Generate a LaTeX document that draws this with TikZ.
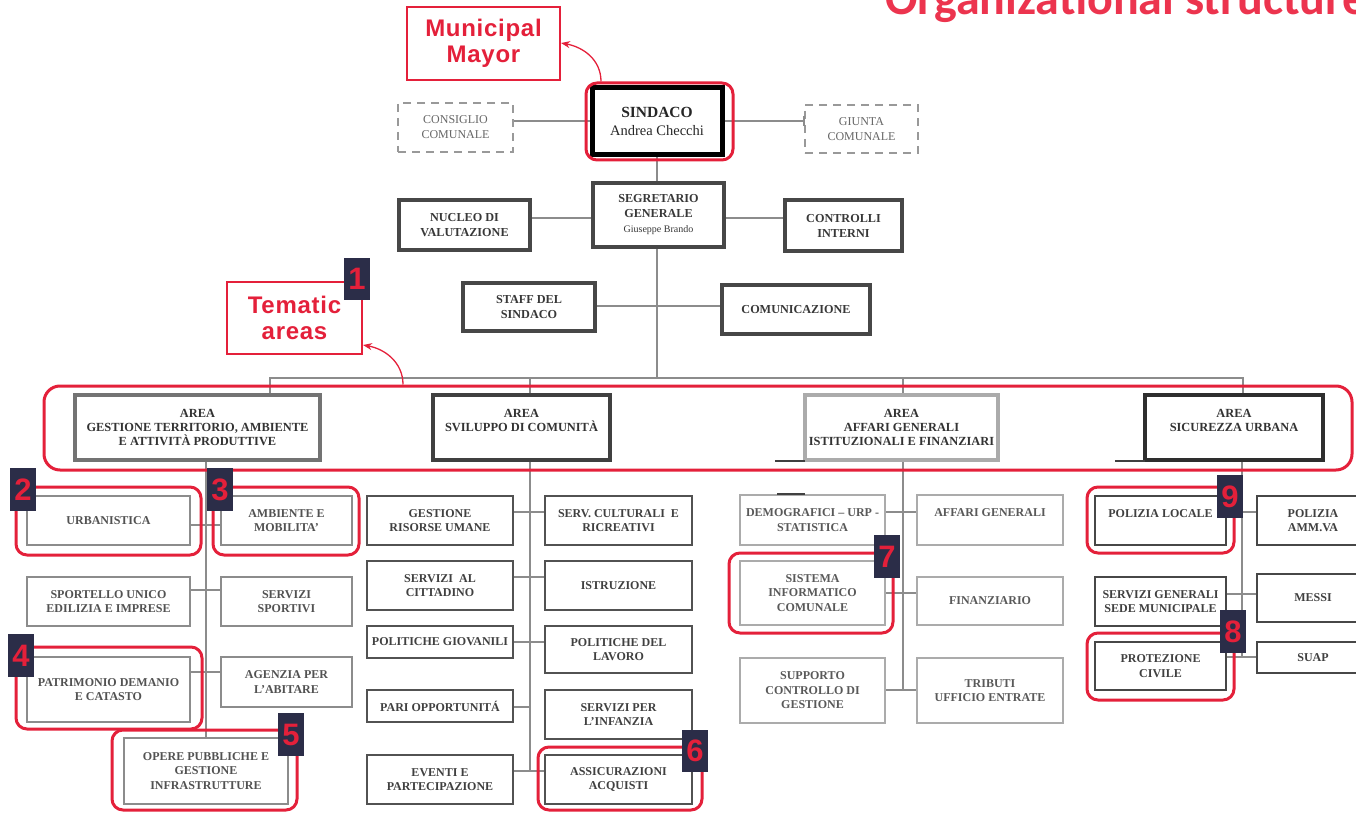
\documentclass[tikz,border=0pt]{standalone}
\usepackage{fontspec}
\setmainfont{Liberation Serif}
\newfontfamily\lsans[LetterSpace=3]{Liberation Sans}
\newfontfamily\numfont{Liberation Sans}
\newfontfamily\carl{Carlito}
\usetikzlibrary{arrows.meta}
\definecolor{hired}{RGB}{228,32,58}
\definecolor{titred}{RGB}{236,52,78}
\definecolor{navy}{RGB}{43,45,72}
\definecolor{conncol}{RGB}{140,140,140}
\newcommand\bx[7]{\node[#2,minimum width={#5-#3},minimum height={#6-#4}] (#1) at ({(#3+#5)/2},{(#4+#6)/2}) {#7};}
\begin{document}
\begin{tikzpicture}[x=1pt,y=-1pt,
  base/.style={draw,fill=white,inner sep=0pt,align=center,font=\bfseries\fontsize{12}{14.5}\selectfont},
  lone/.style={base,draw=black!72,line width=4pt,text=black!78,font=\bfseries\fontsize{12.2}{15}\selectfont},
  sindbox/.style={base,draw=black,line width=5pt,text=black!85},
  dbox/.style={base,draw=black!40,line width=2pt,dash pattern=on 8pt off 6pt,text=black!60,font=\fontsize{12}{15}\selectfont},
  redbox/.style={draw=hired,line width=2pt,fill=white,text=hired,align=center,inner sep=0pt,font=\lsans\bfseries\fontsize{24}{26}\selectfont},
  areaT/.style={base,font=\bfseries\fontsize{12.4}{14.2}\selectfont},
  areaA/.style={areaT,draw=black!55,line width=4pt,text=black!80},
  areaB/.style={areaT,draw=black!75,line width=4pt,text=black!80},
  areaC/.style={areaT,draw=black!33,line width=3.5pt,text=black!80},
  areaD/.style={areaT,draw=black!82,line width=4pt,text=black!80},
  cA/.style={base,draw=black!45,line width=2.2pt,text=black!68},
  cB/.style={base,draw=black!68,line width=2.5pt,text=black!75},
  cC/.style={base,draw=black!33,line width=2.2pt,text=black!65},
  cD/.style={base,draw=black!72,line width=2.5pt,text=black!75},
  hl/.style={draw=hired,line width=3pt,rounded corners=11pt,inner sep=0pt},
  numsq/.style={fill=navy,text=hired,inner sep=0pt,font=\numfont\bfseries\fontsize{31}{31}\selectfont},
  conn/.style={draw=conncol,line width=2.5pt},
  redarrow/.style={draw=hired,line width=1.3pt,-{Stealth[length=9pt,width=7pt]}}
]
\useasboundingbox (0,0) rectangle (1356,813);
% title
\node[anchor=base west,text=titred,inner sep=0pt,font=\carl\bfseries\fontsize{48}{48}\selectfont] (title) at (885,15) {Organizational structure};
% top level
\bx{mun}{redbox}{407}{7}{560}{80}{Municipal\\Mayor}
\bx{sind}{sindbox}{592}{88}{722}{155}{{\fontsize{15.5}{18}\selectfont SINDACO}\\[3pt]{\mdseries\fontsize{14.5}{17}\selectfont Andrea Checchi}}
\bx{cons}{dbox}{398}{103}{513}{152}{CONSIGLIO\\COMUNALE}
\bx{giun}{dbox}{805}{105}{918}{153}{GIUNTA\\COMUNALE}
\bx{seg}{lone}{593}{183}{724}{247}{SEGRETARIO\\GENERALE\\{\mdseries\fontsize{10}{12}\selectfont Giuseppe Brando}}
\bx{nuc}{lone}{399}{200}{530}{250}{NUCLEO DI\\VALUTAZIONE}
\bx{ctrl}{lone}{785}{200}{902}{251}{CONTROLLI\\INTERNI}
\bx{staff}{lone}{463}{283}{595}{331}{STAFF DEL\\SINDACO}
\bx{com}{lone}{722}{285}{870}{334}{COMUNICAZIONE}
\bx{tem}{redbox}{227}{282}{362}{354}{Tematic\\areas}
% areas
\bx{a1}{areaA}{75}{395}{320}{460}{AREA\\GESTIONE TERRITORIO, AMBIENTE\\E ATTIVITÀ PRODUTTIVE}
\bx{a2}{areaB}{433}{395}{610}{460}{AREA\\SVILUPPO DI COMUNITÀ\\\phantom{X}}
\bx{a3}{areaC}{805}{395}{998}{460}{AREA\\AFFARI GENERALI\\ISTITUZIONALI E FINANZIARI}
\bx{a4}{areaD}{1145}{395}{1323}{460}{AREA\\SICUREZZA URBANA\\\phantom{X}}
% column 1
\bx{urb}{cA}{27}{496}{190}{545}{URBANISTICA}
\bx{amb}{cA}{221}{496}{352}{545}{AMBIENTE E\\MOBILITA'}
\bx{spo}{cA}{27}{577}{190}{626}{SPORTELLO UNICO\\EDILIZIA E IMPRESE}
\bx{ssp}{cA}{221}{577}{352}{626}{SERVIZI\\SPORTIVI}
\bx{pat}{cA}{27}{657}{190}{722}{PATRIMONIO DEMANIO\\E CATASTO}
\bx{aga}{cA}{221}{657}{352}{707}{AGENZIA PER\\L'ABITARE}
\bx{ope}{cA}{124}{738}{288}{804}{OPERE PUBBLICHE E\\GESTIONE\\INFRASTRUTTURE}
% column 2
\bx{ger}{cB}{367}{496}{513}{545}{GESTIONE\\RISORSE UMANE}
\bx{scr}{cB}{545}{496}{692}{545}{SERV. CULTURALI~~E\\RICREATIVI}
\bx{sac}{cB}{367}{561}{513}{610}{SERVIZI~~AL\\CITTADINO}
\bx{ist}{cB}{545}{561}{692}{610}{ISTRUZIONE}
\bx{pgi}{cB}{367}{626}{513}{658}{POLITICHE GIOVANILI}
\bx{pla}{cB}{545}{626}{692}{673}{POLITICHE DEL\\LAVORO}
\bx{par}{cB}{367}{690}{513}{722}{PARI OPPORTUNITÁ}
\bx{sin}{cB}{545}{690}{692}{739}{SERVIZI PER\\L'INFANZIA}
\bx{eve}{cB}{367}{755}{513}{804}{EVENTI E\\PARTECIPAZIONE}
\bx{ass}{cB}{545}{755}{692}{804}{ASSICURAZIONI\\ACQUISTI}
% column 3
\bx{dem}{cC}{740}{495}{885}{545}{DEMOGRAFICI -- URP -\\STATISTICA}
\bx{afg}{cC}{917}{495}{1063}{545}{AFFARI GENERALI\\\phantom{X}}
\bx{sic}{cC}{740}{561}{885}{625}{SISTEMA\\INFORMATICO\\COMUNALE}
\bx{fin}{cC}{917}{577}{1063}{625}{FINANZIARIO}
\bx{sup}{cC}{740}{658}{885}{723}{SUPPORTO\\CONTROLLO DI\\GESTIONE}
\bx{tri}{cC}{917}{658}{1063}{723}{TRIBUTI\\UFFICIO ENTRATE}
% column 4
\bx{pol}{cD}{1095}{496}{1226}{545}{POLIZIA LOCALE\\\phantom{X}}
\bx{pam}{cD}{1257}{496}{1369}{545}{POLIZIA\\AMM.VA}
\bx{sgm}{cD}{1095}{577}{1226}{626}{SERVIZI GENERALI\\SEDE MUNICIPALE}
\bx{mes}{cD}{1257}{574}{1369}{622}{MESSI}
\bx{pro}{cD}{1095}{642}{1226}{690}{PROTEZIONE\\CIVILE}
\bx{sua}{cD}{1257}{642}{1369}{673}{SUAP}
% connectors top
\draw[conn] (cons.east |- 0,121) -- (sind.west |- 0,121);
\draw[conn] (sind.east |- 0,121) -- (giun.west |- 0,121);
\draw[conn] (giun.west |- 0,116) -- (giun.west |- 0,126);
\draw[conn] (sind.south) -- (sind.south |- seg.north);
\draw[conn] (nuc.east |- 0,218) -- (seg.west |- 0,218);
\draw[conn] (seg.east |- 0,218) -- (ctrl.west |- 0,218);
\coordinate (busL) at (270,378);
\coordinate (busR) at (1243,378);
\draw[conn] (seg.south -| sind.south) -- (sind.south |- busL);
\draw[conn] (staff.east |- 0,306) -- (com.west |- 0,306);
\draw[conn] (a1.north -| busL) -- (busL) -- (busR) -- (a4.north -| busR);
\draw[conn] (a2.north -| 530,0) -- (530,378);
\draw[conn] (a3.north -| 903,0) -- (903,378);
% column 1 connectors
\draw[conn] (a1.south -| ope.north) -- (ope.north);
\draw[conn] (urb.east |- 0,525) -- (amb.west |- 0,525);
\draw[conn] (spo.east |- 0,590) -- (ssp.west |- 0,590);
\draw[conn] (pat.east |- 0,672) -- (aga.west |- 0,672);
% column 2
\coordinate (s2) at (530,771);
\draw[conn] (a2.south -| s2) -- (s2);
\draw[conn] (ger.east |- 0,512) -- (scr.west |- 0,512);
\draw[conn] (sac.east |- 0,577) -- (ist.west |- 0,577);
\draw[conn] (pgi.east |- 0,642) -- (pla.west |- 0,642);
\draw[conn] (par.east |- 0,707) -- (530,707);
\draw[conn] (eve.east |- s2) -- (ass.west |- s2);
% column 3
\coordinate (s3) at (903,690);
\draw[conn] (a3.south -| s3) -- (s3);
\draw[conn] (dem.east |- 0,512) -- (afg.west |- 0,512);
\draw[conn] (sic.east |- 0,593) -- (fin.west |- 0,593);
\draw[conn] (sup.east |- s3) -- (tri.west |- s3);
% column 4
\coordinate (s4) at (1242,658);
\draw[conn] (a4.south -| s4) -- (s4);
\draw[conn] (pol.east |- 0,512) -- (pam.west |- 0,512);
\draw[conn] (sgm.east |- 0,594) -- (mes.west |- 0,594);
\draw[conn] (pro.east |- 0,657) -- (sua.west |- 0,657);
% small stubs
\draw[black!75,line width=1.5pt] (775,461) -- (805,461);
\draw[black!75,line width=1.5pt] (1115,461) -- (1145,461);
\draw[black!75,line width=1.5pt] (777,494) -- (805,494);
\fill[black!75] (556,458) rectangle (582,462);
% highlights
\bx{sindR}{hl}{586}{83}{733}{160}{}
\bx{areaR}{hl,rounded corners=16pt}{44}{386}{1352}{470}{}
\bx{h2}{hl}{16}{487}{201}{555}{}
\bx{h3}{hl}{213}{487}{359}{555}{}
\bx{h4}{hl}{16}{647}{202}{729}{}
\bx{h5}{hl}{112}{730}{297}{810}{}
\bx{h6}{hl}{538}{747}{702}{810}{}
\bx{h7}{hl}{729}{553}{893}{633}{}
\bx{h9}{hl}{1087}{487}{1234}{553}{}
\bx{h8}{hl}{1087}{633}{1234}{700}{}
% red arrows
\draw[redarrow] (sindR.north -| 601,0) .. controls +(0,-22) and +(22,4) .. (mun.east |- 0,43);
\draw[redarrow] (areaR.north -| 403,0) .. controls +(0,-22) and +(22,4) .. (tem.east |- 0,345);
% number squares
\bx{n1}{numsq}{344}{258}{370}{300}{1}
\bx{n2}{numsq}{10}{468}{36}{511}{2}
\bx{n3}{numsq}{207}{468}{233}{511}{3}
\bx{n4}{numsq}{8}{634}{34}{677}{4}
\bx{n5}{numsq}{278}{713}{304}{756}{5}
\bx{n6}{numsq}{682}{730}{708}{772}{6}
\bx{n7}{numsq}{874}{535}{900}{578}{7}
\bx{n9}{numsq}{1217}{475}{1243}{518}{9}
\bx{n8}{numsq}{1220}{610}{1246}{653}{8}
\end{tikzpicture}
\end{document}
